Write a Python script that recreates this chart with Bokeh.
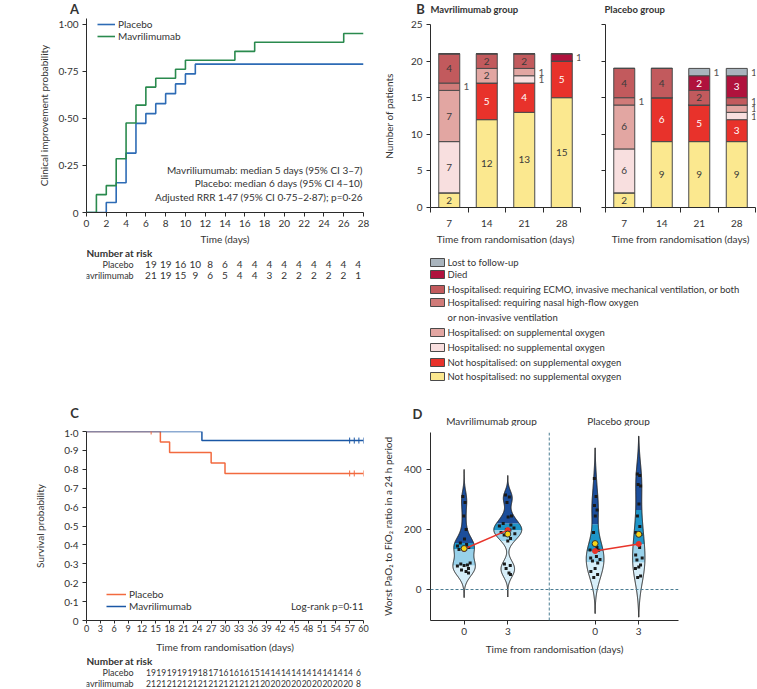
import numpy as np
from bokeh.plotting import figure
from bokeh.models import (Range1d, FactorRange, FixedTicker, Legend, LegendItem,
                          ColumnDataSource, Span)
from bokeh.layouts import column, row
from bokeh.embed import file_html
from bokeh.resources import INLINE
from bokeh.core.properties import value

FONT = "Lato"
TXT = "#333333"
AX = "#2b2b2b"

# ---------------- Panel A data ----------------
a_ticks = [0, 2, 4, 6, 8, 10, 12, 14, 16, 18, 20, 22, 24, 26, 28]
a_plac_t = [0, 2, 3, 4, 5, 6, 7, 8, 9, 10, 11, 28]
a_plac_p = [0, 0.053, 0.158, 0.316, 0.474, 0.526, 0.579, 0.632, 0.684, 0.737, 0.789, 0.789]
a_mav_t = [0, 1, 2, 3, 4, 5, 6, 7, 9, 10, 15, 17, 26, 28]
a_mav_p = [0, 0.095, 0.143, 0.286, 0.476, 0.571, 0.667, 0.714, 0.762, 0.810, 0.857, 0.905, 0.952, 0.952]
a_yticks = [0, 0.25, 0.5, 0.75, 1.0]
a_ylabels = ["0", "0·25", "0·50", "0·75", "1·00"]
a_risk_plac = [19, 19, 16, 10, 8, 6, 4, 4, 4, 4, 4, 4, 4, 4, 4]
a_risk_mav = [21, 19, 15, 9, 6, 5, 4, 4, 3, 2, 2, 2, 2, 2, 1]
a_stats = ["Mavriliumumab: median 5 days (95% CI 3–7)",
           "Placebo: median 6 days (95% CI 4–10)",
           "Adjusted RRR 1·47 (95% CI 0·75–2·87); p=0·26"]
a_stats_y = [0.228, 0.155, 0.081]

# ---------------- Panel B data ----------------
b_days = ["7", "14", "21", "28"]
b_cats = ["Not hospitalised: no supplemental oxygen",
          "Not hospitalised: on supplemental oxygen",
          "Hospitalised: no supplemental oxygen",
          "Hospitalised: on supplemental oxygen",
          "Hospitalised: requiring nasal high-flow oxygen\nor non-invasive ventilation",
          "Hospitalised: requiring ECMO, invasive mechanical ventilation, or both",
          "Died",
          "Lost to follow-up"]
b_colors = ["#fbe88f", "#e8322b", "#f8dfdf", "#e2a6a2", "#d07b79", "#c25a5d", "#b0123d", "#a9b4bd"]
mav_nh_no = [2, 12, 13, 15]
mav_nh_on = [0, 5, 4, 5]
mav_h_no = [7, 0, 1, 0]
mav_h_on = [7, 2, 1, 0]
mav_nasal = [1, 0, 0, 0]
mav_ecmo = [4, 2, 2, 0]
mav_died = [0, 0, 0, 1]
mav_lost = [0, 0, 0, 0]
pla_nh_no = [2, 9, 9, 9]
pla_nh_on = [0, 6, 5, 3]
pla_h_no = [6, 0, 0, 1]
pla_h_on = [6, 0, 0, 1]
pla_nasal = [1, 0, 0, 0]
pla_ecmo = [4, 4, 2, 1]
pla_died = [0, 0, 2, 3]
pla_lost = [0, 0, 1, 1]
b_mav = [mav_nh_no, mav_nh_on, mav_h_no, mav_h_on, mav_nasal, mav_ecmo, mav_died, mav_lost]
b_pla = [pla_nh_no, pla_nh_on, pla_h_no, pla_h_on, pla_nasal, pla_ecmo, pla_died, pla_lost]
b_yticks = [0, 5, 10, 15, 20, 25]

# ---------------- Panel C data ----------------
c_ticks = [0, 3, 6, 9, 12, 15, 18, 21, 24, 27, 30, 33, 36, 39, 42, 45, 48, 51, 54, 57, 60]
c_plac_t = [0, 16, 18, 27, 30, 60]
c_plac_s = [1.0, 0.944, 0.889, 0.833, 0.778, 0.778]
c_mav_t = [0, 25, 60]
c_mav_s = [1.0, 0.952, 0.952]
c_plac_cens_t = [14, 57, 58, 60]
c_plac_cens_s = [1.0, 0.778, 0.778, 0.778]
c_mav_cens_t = [57, 58, 59, 60]
c_mav_cens_s = [0.952, 0.952, 0.952, 0.952]
c_yticks = [0, 0.1, 0.2, 0.3, 0.4, 0.5, 0.6, 0.7, 0.8, 0.9, 1.0]
c_ylabels = ["0", "0·1", "0·2", "0·3", "0·4", "0·5", "0·6", "0·7", "0·8", "0·9", "1·0"]
c_risk_plac = [19, 19, 19, 19, 19, 18, 17, 16, 16, 16, 15, 14, 14, 14, 14, 14, 14, 14, 14, 14, 6]
c_risk_mav = [21, 21, 21, 21, 21, 21, 21, 21, 21, 21, 21, 20, 20, 20, 20, 20, 20, 20, 20, 20, 8]

# ---------------- Panel D data ----------------
d_groups = ["Mavrilimumab group", "Placebo group"]
d_days = ["0", "3"]
d_mav_d0 = [310, 290, 245, 200, 168, 155, 150, 145, 140, 137, 135, 133, 88, 85, 82, 80, 78, 70, 65, 60, 55]
d_mav_d3 = [315, 308, 290, 245, 242, 220, 215, 212, 205, 200, 198, 190, 186, 182, 170, 162, 85, 80, 70, 55, 50]
d_pla_d0 = [370, 310, 280, 265, 245, 190, 140, 132, 131, 128, 110, 105, 100, 95, 88, 70, 60, 50, 40]
d_pla_d3 = [385, 380, 350, 345, 285, 245, 210, 190, 183, 152, 140, 115, 105, 98, 82, 75, 70, 45, 40]
d_tails = [(-27, 400), (-25, 380), (-80, 472), (-92, 511)]
d_yticks = [0, 200, 400]


def fig(**kw):
    p = figure(output_backend="svg", toolbar_location=None, **kw)
    p.outline_line_color = None
    p.background_fill_color = "white"
    p.border_fill_color = "white"
    for g in p.grid:
        g.visible = False
    return p


def style(p, fs="10px"):
    for ax in p.axis:
        ax.axis_line_color = AX
        ax.axis_line_width = 1
        ax.major_tick_line_color = AX
        ax.major_tick_out = 4
        ax.major_tick_in = 0
        ax.minor_tick_line_color = None
        ax.major_label_text_font = FONT
        ax.major_label_text_font_size = fs
        ax.major_label_text_color = TXT
        ax.axis_label_text_font = FONT
        ax.axis_label_text_font_size = fs
        ax.axis_label_text_color = TXT
        ax.axis_label_text_font_style = "normal"


def txt(p, x, y, text, size="10px", bold=False, align="left", color=TXT):
    p.text(x=x, y=y, text=text, text_font=value(FONT), text_font_size=size,
           text_font_style="bold" if bold else "normal", text_align=align,
           text_baseline="middle", text_color=color)


def add_legend(p, label, renderer, loc, gw):
    # one legend per entry, so every entry sits exactly where the reference shows it
    p.add_layout(Legend(items=[LegendItem(label=label, renderers=[renderer])], location=loc,
                        glyph_width=gw, glyph_height=12, label_height=12, label_standoff=3,
                        spacing=0, padding=0, margin=0, border_line_color=None,
                        background_fill_alpha=0, label_text_font=FONT,
                        label_text_font_size="10px", label_text_color=TXT))


def pixel_fig(width, height):
    # a figure whose data units are pixels (y down), used for text-only areas
    return fig(width=width, height=height, x_range=Range1d(0, width), y_range=Range1d(height, 0),
               x_axis_location=None, y_axis_location=None, min_border=0)


def strip(height, items):
    p = pixel_fig(757, height)
    for x, y, t, size, bold, align in items:
        txt(p, [x], [y], [t], size=size, bold=bold, align=align)
    return p


def risk_fig(width, height, px_per_day, left_px, days, plac, mav, lab_px, fs):
    x0 = -left_px / px_per_day
    x1 = (width - left_px) / px_per_day
    p = fig(width=width, height=height, x_range=Range1d(x0, x1),
            y_range=FactorRange(factors=["Mavrilimumab", "Placebo", "Number at risk"]),
            x_axis_location=None, y_axis_location=None, min_border=0)
    for grp, vals in (("Placebo", plac), ("Mavrilimumab", mav)):
        txt(p, days, [grp] * len(vals), [str(v) for v in vals], size=fs, align="center")
    lx = (lab_px - left_px) / px_per_day
    txt(p, [lx, lx], ["Placebo", "Mavrilimumab"], ["Placebo", "Mavrilimumab"],
        size="9px", align="right")
    txt(p, [x0], ["Number at risk"], ["Number at risk"], bold=True)
    return p


# ======================= header strips =======================
top_strip = strip(16, [(74, 8, "A", "13px", True, "center"),
                       (420, 8, "B", "13px", True, "center"),
                       (430, 9, "Mavrilimumab group", "9.5px", True, "left"),
                       (604, 9, "Placebo group", "9.5px", True, "left")])
mid_strip = strip(29, [(74, 15, "C", "13px", True, "center"),
                       (417, 16, "D", "13px", True, "center"),
                       (491, 23, d_groups[0], "10px", False, "center"),
                       (618, 23, d_groups[1], "10px", False, "center")])

# ======================= Panel A =======================
pA = fig(width=370, height=231, x_range=Range1d(0, 28), y_range=Range1d(0, 1.0317),
         min_border_left=86, min_border_right=7, min_border_top=2, min_border_bottom=34)
rA1 = pA.step(a_plac_t, a_plac_p, mode="after", line_color="#2d6bb5", line_width=1.6)
rA2 = pA.step(a_mav_t, a_mav_p, mode="after", line_color="#2a8a4e", line_width=1.6)
style(pA)
pA.xaxis.ticker = FixedTicker(ticks=a_ticks)
pA.xaxis.major_label_standoff = 3
pA.xaxis.axis_label = "Time (days)"
pA.xaxis.axis_label_standoff = 3
pA.yaxis.ticker = FixedTicker(ticks=a_yticks)
pA.yaxis.major_label_overrides = dict(zip(a_yticks, a_ylabels))
pA.yaxis.major_label_standoff = 4
pA.yaxis.axis_label = "Clinical improvement probability"
pA.yaxis.axis_label_standoff = 5
add_legend(pA, "Placebo", rA1, (11, 182), 18)
add_legend(pA, "Mavrilimumab", rA2, (11, 170), 18)
txt(pA, [27.9] * len(a_stats), a_stats_y, a_stats, align="right")

pAr = risk_fig(370, 33, 277 / 28, 86, a_ticks, a_risk_plac, a_risk_mav, 63, "10px")

# ======================= Panel B =======================
bx = [i + 0.5 for i in range(len(b_days))]
BW = 0.56


def panel_b(counts, width, left, right, show_labels):
    p = fig(width=width, height=231, x_range=Range1d(0, len(b_days)), y_range=Range1d(0, 25),
            min_border_left=left, min_border_right=right, min_border_top=8, min_border_bottom=34)
    keys = ["c%d" % i for i in range(len(b_cats))]
    src = ColumnDataSource(dict(x=bx, **{k: v for k, v in zip(keys, counts)}))
    p.vbar_stack(keys, x="x", width=BW, fill_color=b_colors, line_color="#4a4a4a",
                 line_width=1, source=src)
    base = np.zeros(len(bx))
    ins = dict(x=[], y=[], t=[], c=[])
    outs = dict(x=[], y=[], t=[])
    for ci, vals in enumerate(counts):
        for i, v in enumerate(vals):
            if v >= 2:
                ins["x"].append(bx[i]); ins["y"].append(base[i] + v / 2); ins["t"].append(str(v))
                ins["c"].append("white" if ci in (1, 6) else "#3a3a3a")
            elif v == 1:
                outs["x"].append(bx[i] + BW / 2 + 0.1); outs["y"].append(base[i] + 0.5)
                outs["t"].append("1")
        base += np.array(vals)
    p.text(x="x", y="y", text="t", text_color="c", source=ColumnDataSource(ins),
           text_align="center", text_baseline="middle", text_font=value(FONT), text_font_size="10px")
    p.text(x="x", y="y", text="t", source=ColumnDataSource(outs), text_color="#555555",
           text_align="left", text_baseline="middle", text_font=value(FONT), text_font_size="10px")
    style(p)
    p.xaxis.ticker = FixedTicker(ticks=bx, minor_ticks=list(range(len(b_days) + 1)))
    p.xaxis.major_label_overrides = dict(zip(bx, b_days))
    p.xaxis.major_tick_out = 0
    p.xaxis.minor_tick_out = 5
    p.xaxis.minor_tick_in = 0
    p.xaxis.minor_tick_line_color = AX
    p.xaxis.major_label_standoff = 7
    p.xaxis.axis_label = "Time from randomisation (days)"
    p.xaxis.axis_label_standoff = 3
    p.yaxis.ticker = FixedTicker(ticks=b_yticks)
    p.yaxis.major_label_standoff = 4
    if show_labels:
        p.yaxis.axis_label = "Number of patients"
        p.yaxis.axis_label_standoff = 13
    else:
        p.yaxis.major_label_overrides = {t: "" for t in b_yticks}
    return p


pB1 = panel_b(b_mav, 220, 60, 10, True)
pB2 = panel_b(b_pla, 167, 15, 2, False)

# legend of panel B: swatches and labels, top to bottom, in pixel units
pLeg = pixel_fig(387, 150)
leg_rows = [15, 27, 42, 55, 85, 100, 115, 129]
leg_cols = b_colors[::-1]
leg_text = b_cats[::-1]
pLeg.rect(x=[67] * len(leg_rows), y=leg_rows, width=14, height=8, fill_color=leg_cols,
          line_color="#4a4a4a", line_width=1)
lx, ly, lt = [], [], []
for y0, lbl in zip(leg_rows, leg_text):
    for k, part in enumerate(lbl.split("\n")):
        lx.append(77); ly.append(y0 + 15 * k); lt.append(part)
txt(pLeg, lx, ly, lt, size="9.5px")

# ======================= Panel C =======================
pC = fig(width=370, height=229, x_range=Range1d(0, 60), y_range=Range1d(0, 1),
         min_border_left=86, min_border_right=7, min_border_top=5, min_border_bottom=34)
rC1 = pC.step(c_plac_t, c_plac_s, mode="after", line_color="#f26a3f", line_width=1.5)
rC2 = pC.step(c_mav_t, c_mav_s, mode="after", line_color="#1a57a5", line_width=1.5)
pC.scatter(c_plac_cens_t, c_plac_cens_s, marker="dash", angle=np.pi / 2, size=6, line_color="#f26a3f")
pC.scatter(c_mav_cens_t, c_mav_cens_s, marker="dash", angle=np.pi / 2, size=6, line_color="#1a57a5")
style(pC)
pC.xaxis.ticker = FixedTicker(ticks=c_ticks)
pC.xaxis.major_label_text_font_size = "9px"
pC.xaxis.major_tick_out = 3
pC.xaxis.major_label_standoff = 1
pC.xaxis.axis_label = "Time from randomisation (days)"
pC.xaxis.axis_label_standoff = 6
pC.yaxis.ticker = FixedTicker(ticks=c_yticks)
pC.yaxis.major_label_overrides = dict(zip(c_yticks, c_ylabels))
pC.yaxis.major_label_standoff = 4
pC.yaxis.axis_label = "Survival probability"
pC.yaxis.axis_label_standoff = 15
add_legend(pC, "Placebo", rC1, (20, 20), 20)
add_legend(pC, "Mavrilimumab", rC2, (20, 8), 20)
txt(pC, [60], [0.075], ["Log-rank p=0·11"], align="right")

pCr = risk_fig(370, 34, 277.3 / 60, 86, c_ticks, c_risk_plac, c_risk_mav, 63, "8.5px")

# ======================= Panel D =======================
pD = fig(width=387, height=263, x_range=Range1d(-0.77, 4.91), y_range=Range1d(-103.3, 523.3),
         min_border_left=60, min_border_right=79, min_border_top=6, min_border_bottom=69)
d_pos = [3 * g + k for g in range(len(d_groups)) for k in range(len(d_days))]
d_sets = [d_mav_d0, d_mav_d3, d_pla_d0, d_pla_d3]
band_colors = ["#d6eef9", "#98d1ea", "#1e95c8", "#1c4e9b"]
jit = [-0.55, 0.35, -0.2, 0.6, 0.05, -0.4, 0.25, -0.65, 0.45, -0.1, 0.15,
       -0.5, 0.55, -0.3, 0.3, 0.0, -0.6, 0.4, -0.25, 0.2, 0.5]
WMAX = 0.32
dens = []
for vals, (lo, hi) in zip(d_sets, d_tails):
    v = np.asarray(vals, float)
    n = v.size
    q25, q75 = np.percentile(v, [25, 75])
    bw = 0.9 * min(v.std(ddof=1), (q75 - q25) / 1.34) * n ** -0.2
    ys = np.linspace(lo, hi, 300)
    d = np.exp(-0.5 * ((ys[:, None] - v[None, :]) / bw) ** 2).sum(1) / (n * bw * np.sqrt(2 * np.pi))
    dens.append((ys, d))
dmax = max(d.max() for _, d in dens)

pD.add_layout(Span(location=0, dimension="width", line_color="#4b7d93", line_dash="3 2", line_width=1))
pD.add_layout(Span(location=1.95, dimension="height", line_color="#4b7d93", line_dash="3 2", line_width=1))

for c, vals, (ys, d) in zip(d_pos, d_sets, dens):
    w = d / dmax * WMAX
    qs = np.percentile(vals, [25, 50, 75])
    edges = [ys[0], *qs, ys[-1]]
    for k in range(4):
        lo, hi = edges[k], edges[k + 1]
        inner = ys[(ys > lo) & (ys < hi)]
        yb = np.concatenate([[lo], inner, [hi]])
        wb = np.interp(yb, ys, w)
        pD.harea(x1=c - wb, x2=c + wb, y=yb, fill_color=band_colors[k])
    pD.patch(np.concatenate([c - w, (c + w)[::-1]]), np.concatenate([ys, ys[::-1]]),
             fill_color=None, line_color="#222222", line_width=1)
    wv = np.interp(vals, ys, w)
    xs = c + np.array(jit[:len(vals)]) * wv
    pD.scatter(xs, vals, marker="square", size=3, fill_color="#1a1a1a", line_color=None)

med = [float(np.median(v)) for v in d_sets]
mean = [float(np.mean(v)) for v in d_sets]
for g in range(len(d_groups)):
    i0, i1 = 2 * g, 2 * g + 1
    pD.line([d_pos[i0], d_pos[i1]], [med[i0], med[i1]], line_color="#e8342a", line_width=1.5)
pD.scatter(d_pos, med, size=5, fill_color="#e8342a", line_color="#e8342a")
pD.scatter(d_pos, mean, size=6, fill_color="#f7d417", line_color="#333333")
style(pD)
pD.xaxis.ticker = FixedTicker(ticks=d_pos)
pD.xaxis.major_label_overrides = dict(zip(d_pos, d_days * len(d_groups)))
pD.xaxis.major_label_standoff = 3
pD.xaxis.axis_label = "Time from randomisation (days)"
pD.xaxis.axis_label_standoff = 5
pD.yaxis.ticker = FixedTicker(ticks=d_yticks)
pD.yaxis.major_label_standoff = 5
pD.yaxis.axis_label = "Worst PaO₂ to FiO₂ ratio in a 24 h period"
pD.yaxis.axis_label_standoff = 7

layout = column(top_strip,
                row(column(pA, pAr), column(row(pB1, pB2), pLeg)),
                mid_strip,
                row(column(pC, pCr), pD))

open("out.html", "w").write(file_html(layout, INLINE))
